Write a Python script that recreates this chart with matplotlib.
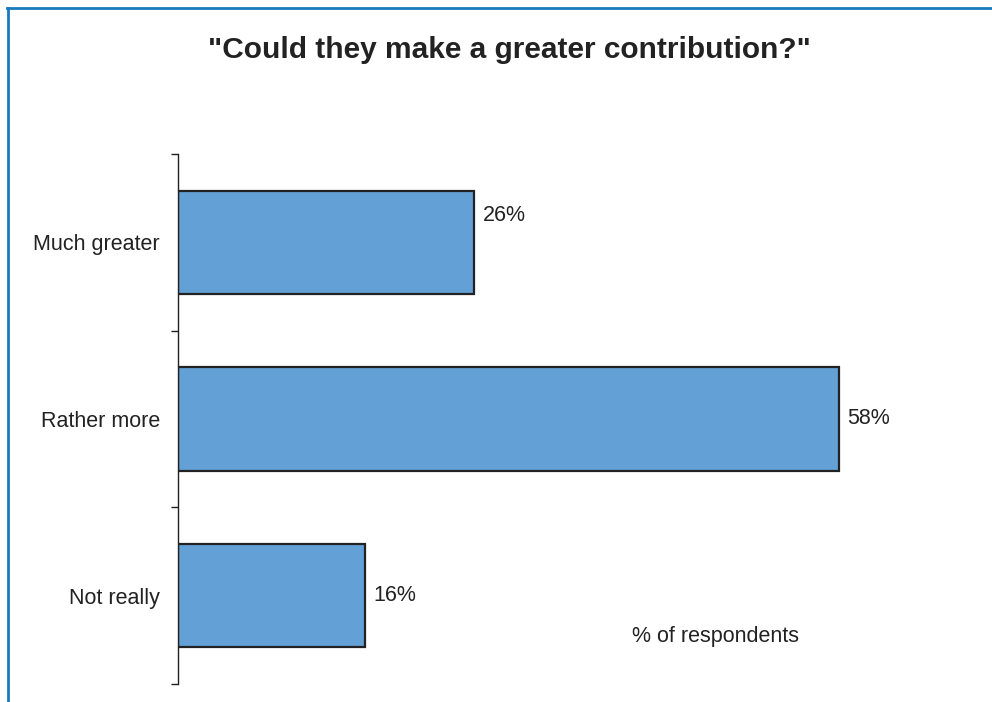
import matplotlib
matplotlib.use("Agg")
import matplotlib.pyplot as plt
from matplotlib.lines import Line2D
import numpy as np

categories = ["Much greater", "Rather more", "Not really"]
values = [26, 58, 16.4]
labels = ["26%", "58%", "16%"]

plt.rcParams["font.family"] = ["Liberation Sans", "DejaVu Sans"]
txt = "#222222"

fig = plt.figure(figsize=(9.92, 7.02), dpi=100)
ax = fig.add_axes([178 / 992, 1 - 684 / 702, 798 / 992, 530 / 702])

y = np.arange(len(categories))
ax.barh(y, values, height=0.585, color="#63a0d6", edgecolor="#222222", linewidth=1.6)

for i, (yi, v, lab) in enumerate(zip(y, values, labels)):
    dy = 19 if i == 0 else 0   # first label sits a bit high in the original
    ax.annotate(lab, (v, yi), xytext=(6, dy), textcoords="offset points",
                va="center", ha="left", fontsize=15.5, color=txt)

ax.set_xlim(0, 70)
ax.set_ylim(len(categories) - 0.5, -0.5)
ax.set_yticks(y)
ax.set_yticklabels(categories, fontsize=15.5, color=txt)
ax.set_yticks(np.arange(len(categories) + 1) - 0.5, minor=True)
ax.tick_params(axis="y", which="major", length=0, pad=13)
ax.tick_params(axis="y", which="minor", length=5, width=1, color="#222222")
ax.set_xticks([])
for s in ["top", "right", "bottom"]:
    ax.spines[s].set_visible(False)
ax.spines["left"].set_color("#222222")
ax.spines["left"].set_linewidth(1)

fig.text(509 / 992, 1 - 58 / 702, '"Could they make a greater contribution?"',
         ha="center", va="baseline", fontsize=21.5, fontweight="bold", color=txt)
fig.text(632 / 992, 1 - 642 / 702, "% of respondents",
         ha="left", va="baseline", fontsize=15.5, color=txt)

# blue frame (left and top only)
bc = "#1a7abf"
fig.add_artist(Line2D([7.5 / 992, 7.5 / 992], [0, 1 - 7.5 / 702],
                      transform=fig.transFigure, color=bc, linewidth=2))
fig.add_artist(Line2D([6.5 / 992, 1], [1 - 7.5 / 702, 1 - 7.5 / 702],
                      transform=fig.transFigure, color=bc, linewidth=2))

fig.savefig("out.png", dpi=100)
